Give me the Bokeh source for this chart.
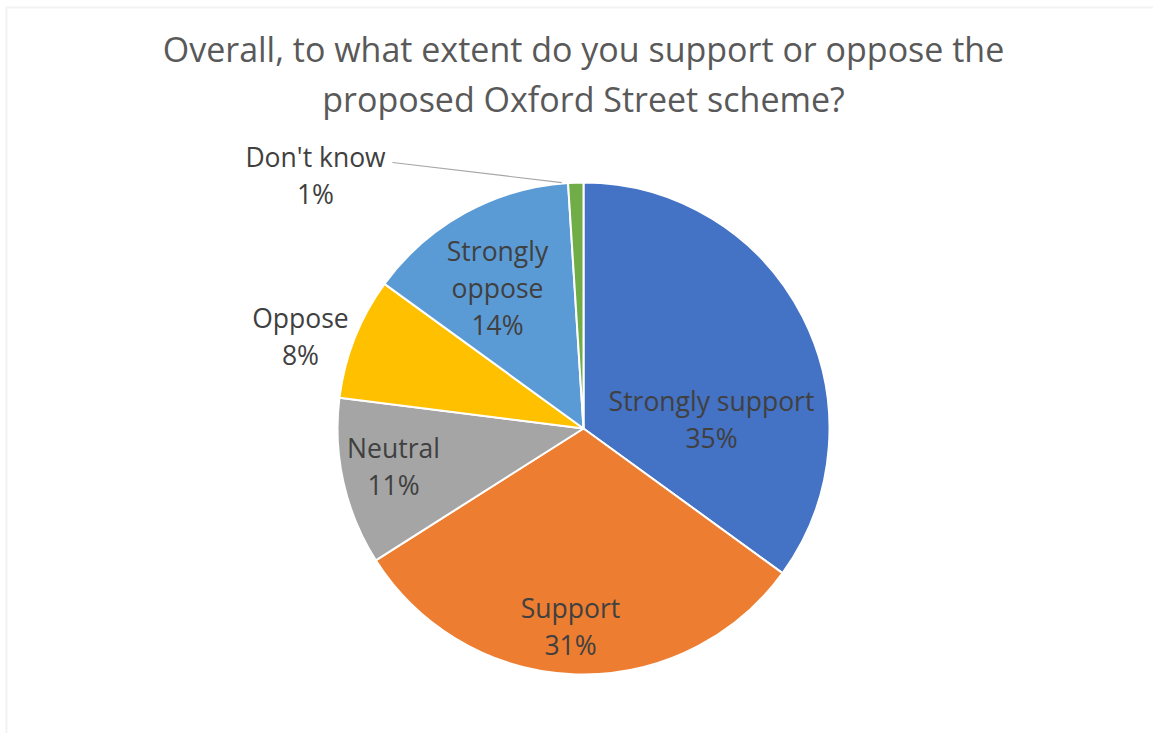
import math
from bokeh.plotting import figure
from bokeh.models import Range1d, BoxAnnotation, ColumnDataSource
from bokeh.core.properties import value
from bokeh.embed import file_html
from bokeh.resources import INLINE

# ---- data ----
title_lines = ["Overall, to what extent do you support or oppose the",
               "proposed Oxford Street scheme?"]
categories = ["Strongly support", "Support", "Neutral", "Oppose", "Strongly oppose", "Don't know"]
label_names = [["Strongly support"], ["Support"], ["Neutral"], ["Oppose"], ["Strongly", "oppose"], ["Don't know"]]
percents = [35, 31, 11, 8, 14, 1]
colors = ["#4472C4", "#ED7D31", "#A5A5A5", "#FFC000", "#5B9BD5", "#70AD47"]

# ---- layout (pixels relative to pie centre) ----
W, H = 1153, 733
CX, CY = 583, 428
R = 246
label_offsets = [(128, 9), (-13, -198), (-190, -38), (-283, 92), (-86, 141), (-268, 253)]
LINE_H = 37
FONT = "Open Sans"

p = figure(width=W, height=H, output_backend="svg", toolbar_location=None,
           x_range=Range1d(-CX, W - CX), y_range=Range1d(CY - H, CY),
           min_border=0, outline_line_color=None)
p.axis.visible = False
p.grid.visible = False
p.background_fill_color = "white"
p.border_fill_color = "white"

# frame border of the chart area
p.add_layout(BoxAnnotation(left=6 - CX, top=CY - 7, right=W + 50, bottom=CY - H - 50,
                           fill_alpha=0, line_color="#d4d4d4", line_width=2))

total = float(sum(percents))
starts, ends, mids = [], [], []
cum = 0.0
for v in percents:
    a0 = math.pi / 2 - 2 * math.pi * cum / total
    cum += v
    a1 = math.pi / 2 - 2 * math.pi * cum / total
    starts.append(a0); ends.append(a1); mids.append((a0 + a1) / 2)

src = ColumnDataSource(dict(start=starts, end=ends, color=colors, cat=categories))
p.wedge(x=0, y=0, radius=R, start_angle="start", end_angle="end", direction="clock",
        fill_color="color", line_color="white", line_width=2, source=src)

# leader line for the small slice
i_dk = categories.index("Don't know")
lx, ly = label_offsets[i_dk]
p.segment(x0=[lx + 77], y0=[ly + 13], x1=[R * math.cos(mids[i_dk]) - 14], y1=[R * math.sin(mids[i_dk])],
          line_color="#a6a6a6", line_width=1.2)

# data labels
tx, ty, tt, yo = [], [], [], []
for i, (names, pct) in enumerate(zip(label_names, percents)):
    lines = names + [f"{pct}%"]
    dx, dy = label_offsets[i]
    n = len(lines)
    for k, t in enumerate(lines):
        tx.append(dx); ty.append(dy); tt.append(t)
        yo.append((k - (n - 1) / 2) * LINE_H)
p.text(x=tx, y=ty, text=tt, y_offset=yo, text_align="center", text_baseline="middle",
       text_font=value(FONT), text_font_size="26.5px", text_color="#404040")

# title
p.text(x=[0, 0], y=[CY - 48, CY - 98], text=title_lines, text_align="center", text_baseline="middle",
       text_font=value(FONT), text_font_size="34px", text_color="#595959")

open("out.html", "w").write(file_html(p, INLINE))
